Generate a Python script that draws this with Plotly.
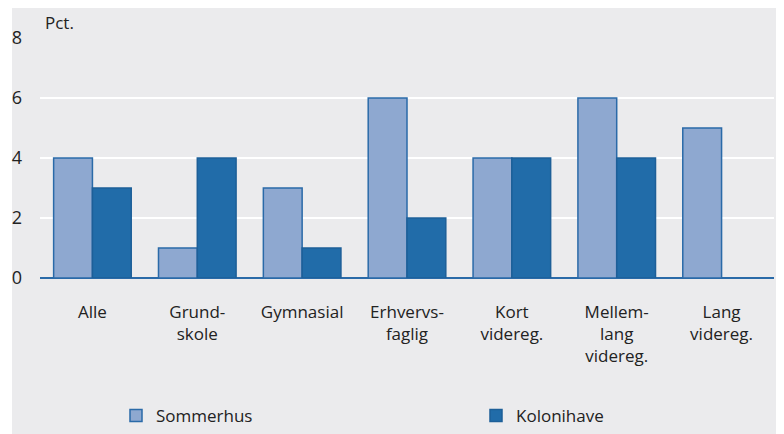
import plotly.graph_objects as go

categories = ["Alle", "Grund-<br>skole", "Gymnasial", "Erhvervs-<br>faglig", "Kort<br>videreg.", "Mellem-<br>lang<br>videreg.", "Lang<br>videreg."]
sommerhus = [4, 1, 3, 6, 4, 6, 5]
kolonihave = [3, 4, 1, 2, 4, 4, None]
yticks = [0, 2, 4, 6, 8]

FONT = "Open Sans, sans-serif"
OFF = 8  # page body margin
W, H = 784 - OFF, 434 - OFF
L, R, T, B = 40 - OFF, 10, 38 - OFF, 156
pw, ph = W - L - R, H - T - B

fig = go.Figure()
fig.add_bar(x=categories, y=sommerhus, name="Sommerhus", legend="legend",
            marker=dict(color="#8ea8d0", line=dict(color="#2a6aa8", width=1.5)))
fig.add_bar(x=categories, y=kolonihave, name="Kolonihave", legend="legend2",
            marker=dict(color="#216ca9", line=dict(color="#1d5f98", width=1.5)))

leg_common = dict(xanchor="left", yanchor="middle", y=(H - B - (416 - OFF)) / ph,
                  font=dict(size=17, family=FONT, color="#222222"), bgcolor="rgba(0,0,0,0)",
                  itemwidth=30)
fig.update_layout(
    width=W, height=H,
    margin=dict(l=L, r=R, t=T, b=B, autoexpand=False),
    paper_bgcolor="white",
    plot_bgcolor="#dfe0e2",
    barmode="group", bargap=0.26, bargroupgap=0,
    font=dict(family=FONT, size=16, color="#222222"),
    showlegend=True,
    legend=dict(x=(116 - OFF - L) / pw, **leg_common),
    legend2=dict(x=(476 - OFF - L) / pw, **leg_common),
    shapes=[dict(type="rect", xref="paper", yref="paper", layer="below",
                 x0=(12 - OFF - L) / pw, x1=1 + R / pw, y0=-B / ph, y1=1 + (T - (4 - OFF)) / ph,
                 fillcolor="#ebebed", line=dict(width=0))],
    annotations=[dict(text="Pct.", xref="paper", yref="paper", x=(43 - OFF - L) / pw,
                      y=1 + (T - (9 - OFF)) / ph,
                      xanchor="left", yanchor="top", showarrow=False,
                      font=dict(size=17, family=FONT, color="#222222"))],
)
fig.update_xaxes(showgrid=False, ticks="", tickfont=dict(size=17), showline=False,
                 automargin=False, ticklabelstandoff=22)
fig.update_yaxes(range=[0, 8], tickvals=yticks, showgrid=True, gridcolor="white", gridwidth=2,
                 zeroline=True, zerolinecolor="#2a6aa8", zerolinewidth=1.5, automargin=False,
                 tickfont=dict(size=18), ticklabelstandoff=17, ticks="")
fig.write_html("out.html")
